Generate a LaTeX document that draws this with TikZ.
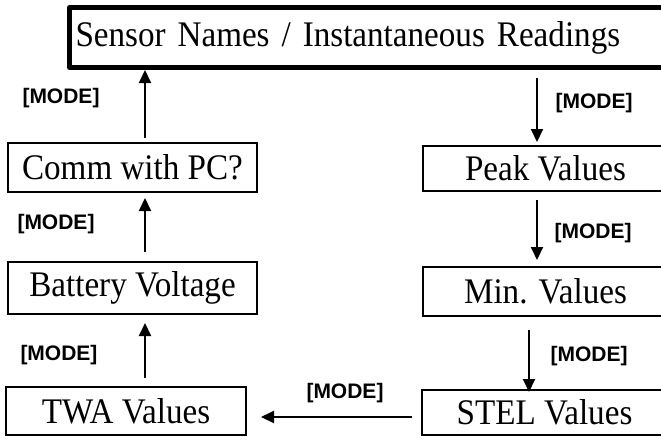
\documentclass[tikz,border=0pt]{standalone}
\usepackage{fontspec}
\setmainfont{Liberation Serif}
\setsansfont{Liberation Sans}
\newfontfamily\screenfont{Liberation Serif}[FakeStretch=0.92]
\usetikzlibrary{arrows.meta, positioning}

\begin{document}
\begin{tikzpicture}[% styles used in the menu chart
x = 1pt, y = -1pt,
          > = {Triangle[length=13pt, width=12pt]},
box/.style  = {draw, line width=2pt, inner sep=0pt,
               font=\screenfont\fontsize{36}{40}\selectfont},
main/.style = {box, line width=5pt, line join=round,
               text width=590pt, align=left, inner xsep=6pt,
               minimum height=60pt},
mode/.style = {font=\fontsize{21}{24}\selectfont\sffamily\bfseries,
               inner sep=0pt},
flow/.style = {->, line width=2pt}
                    ]
    \useasboundingbox (0,0) rectangle (661,439);

    % columns of the arrows
    \coordinate (lx) at (145,0);
    \coordinate (rx) at (537,0);
    \coordinate (rxlow) at (529,0);
    \coordinate (by) at (0,417);

    % display screens
    \node[main, anchor=north west] (top) at (67,5) {Sensor Names / Instantaneous Readings};

    \node[box, minimum width=249pt, minimum height=49pt] (comm) at (132.5,167.5) {Comm with PC?};
    \node[box, minimum width=249pt, minimum height=52pt] (batt) at (132.5,288) {Battery Voltage};
    \node[box, minimum width=240pt, minimum height=48pt] (twa)  at (126,411) {TWA Values};

    \node[box, minimum width=245pt, minimum height=45pt] (peak) at (545.5,168.5) {Peak Values};
    \node[box, minimum width=245pt, minimum height=49pt] (min)  at (545.5,291.5) {Min. Values};
    \node[box, minimum width=245pt, minimum height=45pt] (stel) at (544.5,412.5) {STEL Values};

    % key presses
    \draw[flow, shorten <=8pt, shorten >=3pt] (top.south -| rx) -- (peak.north -| rx);
    \draw[flow, shorten <=8pt, shorten >=6pt] (peak.south -| rx) -- (min.north -| rx);
    \draw[flow, shorten <=13pt, shorten >=-3pt] (min.south -| rxlow) -- (stel.north -| rxlow);
    \draw[flow, shorten <=9pt, shorten >=14pt] (stel.west |- by) -- (twa.east |- by);
    \draw[flow, shorten <=8pt, shorten >=8pt] (twa.north -| lx) -- (batt.south -| lx);
    \draw[flow, shorten <=9pt, shorten >=5pt] (batt.north -| lx) -- (comm.south -| lx);
    \draw[flow, shorten <=4pt] (comm.north -| lx) -- (top.south -| lx);

    \node[mode] (m1) at (594,103) {[MODE]};
    \node[mode] (m2) at (593,233) {[MODE]};
    \node[mode] (m3) at (589,356) {[MODE]};
    \node[mode] (m4) at (345,393) {[MODE]};
    \node[mode] (m5) at (59,355) {[MODE]};
    \node[mode] (m6) at (56,224) {[MODE]};
    \node[mode] (m7) at (61,98) {[MODE]};
\end{tikzpicture}
\end{document}
